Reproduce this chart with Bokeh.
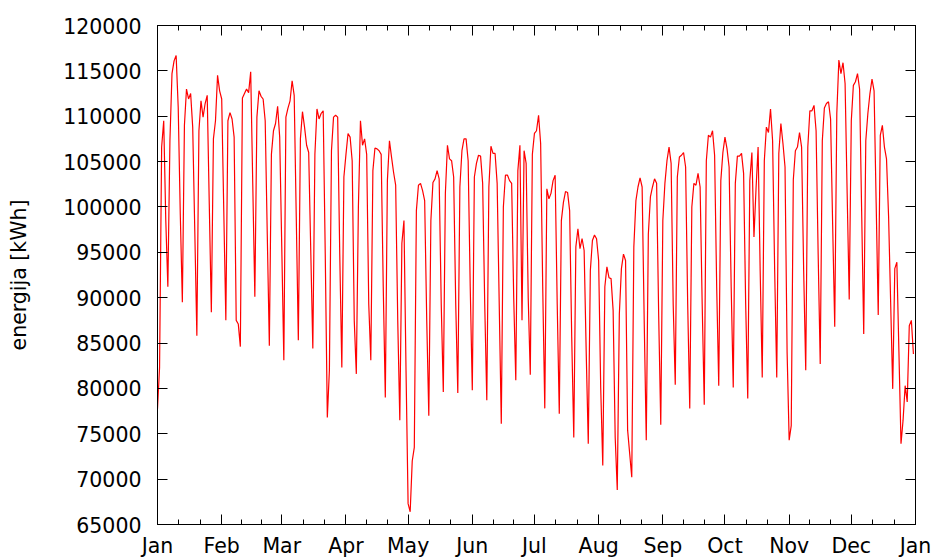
from bokeh.plotting import figure
from bokeh.models import Range1d, FixedTicker, BasicTickFormatter, LinearAxis
from bokeh.embed import file_html
from bokeh.resources import INLINE

# Daily energy, 366 days (day 0 = 1 Jan)
energy = [
    77750, 82300, 106600, 109500, 98500, 91200,
    107300, 114700, 116100, 116700, 111000, 99200, 89500,
    109000, 113000, 111900, 112500, 108800, 97400, 85800,
    108400, 111700, 109900, 111400, 112300, 100300, 88400,
    107500, 109500, 114500, 112800, 111900, 99600, 87500,
    109500, 110400, 109700, 107700, 87500, 87100, 84600,
    112000, 112500, 113000, 112600, 114900, 102500, 90100,
    109900, 112800, 112200, 111900, 109500, 97000, 84700,
    105800, 108400, 109200, 111100, 107700, 95600, 83100,
    109900, 110900, 111700, 113900, 112300, 98900, 85300,
    107500, 110500, 108800, 106800, 106000, 95200, 84400,
    105800, 110800, 109700, 110300, 110600, 94800, 76800,
    82000, 106200, 109900, 110100, 109900, 94800, 82300,
    103300, 105800, 108100, 107700, 105100, 87500, 81600,
    100000, 109500, 106800, 107500, 105800, 89300, 83100,
    104000, 106500, 106400, 106200, 105800, 91200, 79000,
    102900, 107300, 105500, 103800, 102400, 87500, 76500,
    96000, 98500, 82000, 67300, 66400, 72000, 73500,
    99600, 102400, 102600, 101800, 100700, 87500, 77000,
    98500, 102700, 103100, 104000, 103100, 89300, 79600,
    101500, 106800, 105300, 105100, 103300, 89300, 79500,
    102200, 106200, 107500, 107500, 105100, 91200, 79800,
    103300, 104800, 105700, 105600, 102600, 89300, 78700,
    102200, 106700, 105900, 105900, 102600, 89300, 76100,
    100000, 103500, 103500, 102900, 102600, 90000, 80900,
    104000, 106800, 87500, 106200, 104800, 90000, 81500,
    105800, 108100, 108400, 110100, 107000, 91200, 77800,
    102000, 100900, 101500, 102900, 103500, 89300, 77200,
    98500, 100500, 101700, 101600, 99600, 85700, 74600,
    95600, 97600, 95400, 96500, 95200, 84000, 73900,
    93000, 96300, 96900, 96500, 94100, 80100, 71500,
    91200, 93400, 92200, 92100, 88600, 74600, 68800,
    88200, 93200, 94800, 94100, 75400, 72800, 70200,
    95600, 100700, 102200, 103200, 102200, 87500, 74300,
    97000, 101100, 102200, 103100, 102600, 88000, 76000,
    98500, 102600, 105100, 106600, 104800, 89300, 80400,
    103300, 105500, 105700, 106000, 104400, 89300, 77800,
    100000, 102600, 102400, 103700, 102200, 89300, 78200,
    105100, 107900, 107700, 108400, 105700, 91200, 80300,
    102900, 106000, 107700, 106400, 104400, 91200, 80100,
    102600, 105600, 105600, 105900, 103700, 89300, 78900,
    102900, 106000, 96700, 102000, 106600, 93000, 81200,
    105100, 108800, 108200, 110800, 107300, 93000, 81200,
    105900, 109200, 107000, 104400, 84000, 74300, 75900,
    103000, 106200, 106600, 108200, 106600, 93000, 82000,
    106600, 110600, 110600, 111200, 108400, 94800, 82700,
    107300, 110900, 111400, 111600, 109700, 98000, 86800,
    110300, 116200, 114700, 115900, 113600, 101500, 89800,
    109500, 113400, 113800, 114700, 113000, 99500, 86000,
    107300, 110300, 112500, 114100, 112800, 100500, 88100,
    107900, 109000, 106600, 105300, 99000, 89500, 79950,
    93200, 93900, 84000, 73900, 76500, 80300, 78500,
    86900, 87500, 83800,
]
days = list(range(len(energy)))

month_starts = [0, 31, 60, 91, 121, 152, 182, 213, 244, 274, 305, 335, 366]
month_labels = ["Jan", "Feb", "Mar", "Apr", "May", "Jun", "Jul",
                "Aug", "Sep", "Oct", "Nov", "Dec", "Jan"]
y_ticks = list(range(65000, 120001, 5000))
y_label = "energija [kWh]"

minor = []
for a, b in zip(month_starts[:-1], month_starts[1:]):
    minor += [a + (b - a) / 3, a + 2 * (b - a) / 3]

FONT = "DejaVu Sans"
FS = "20.5px"

p = figure(width=932, height=560,
           x_range=Range1d(0, 366), y_range=Range1d(65000, 120000),
           output_backend="svg", toolbar_location=None,
           min_border_left=157, min_border_right=17,
           min_border_top=25, min_border_bottom=36)
p.background_fill_color = "white"
p.border_fill_color = "white"
p.outline_line_color = "black"
p.outline_line_width = 1
p.grid.visible = False

p.line(days, energy, line_color="#ff0000", line_width=1.2)

xt = FixedTicker(ticks=month_starts, minor_ticks=minor)
yt = FixedTicker(ticks=y_ticks, minor_ticks=[])

def style(ax, labels=True):
    ax.axis_line_color = "black"
    ax.major_tick_line_color = "black"
    ax.minor_tick_line_color = "black"
    ax.major_tick_in = 10
    ax.major_tick_out = 0
    ax.minor_tick_in = 5
    ax.minor_tick_out = 0
    ax.major_label_text_font = FONT
    ax.major_label_text_color = "black"
    if labels:
        ax.major_label_text_font_size = FS
    else:
        ax.major_label_text_font_size = "0px"
        ax.major_label_standoff = 0

xa = p.xaxis[0]
xa.ticker = xt
xa.major_label_overrides = {m: l for m, l in zip(month_starts, month_labels)}
style(xa)
xa.major_label_standoff = 9

ya = p.yaxis[0]
ya.ticker = yt
ya.formatter = BasicTickFormatter(use_scientific=False)
style(ya)
ya.minor_tick_line_color = None
ya.major_label_standoff = 16
ya.axis_label = y_label
ya.axis_label_text_font = FONT
ya.axis_label_text_font_size = FS
ya.axis_label_text_font_style = "normal"
ya.axis_label_text_color = "black"
ya.axis_label_standoff = 29

top = LinearAxis(ticker=FixedTicker(ticks=month_starts, minor_ticks=minor))
style(top, labels=False)
top.major_label_overrides = {m: "" for m in month_starts}
p.add_layout(top, "above")

right = LinearAxis(ticker=FixedTicker(ticks=y_ticks, minor_ticks=[]))
style(right, labels=False)
right.minor_tick_line_color = None
right.major_label_overrides = {t: "" for t in y_ticks}
p.add_layout(right, "right")

open("out.html", "w").write(file_html(p, INLINE))
